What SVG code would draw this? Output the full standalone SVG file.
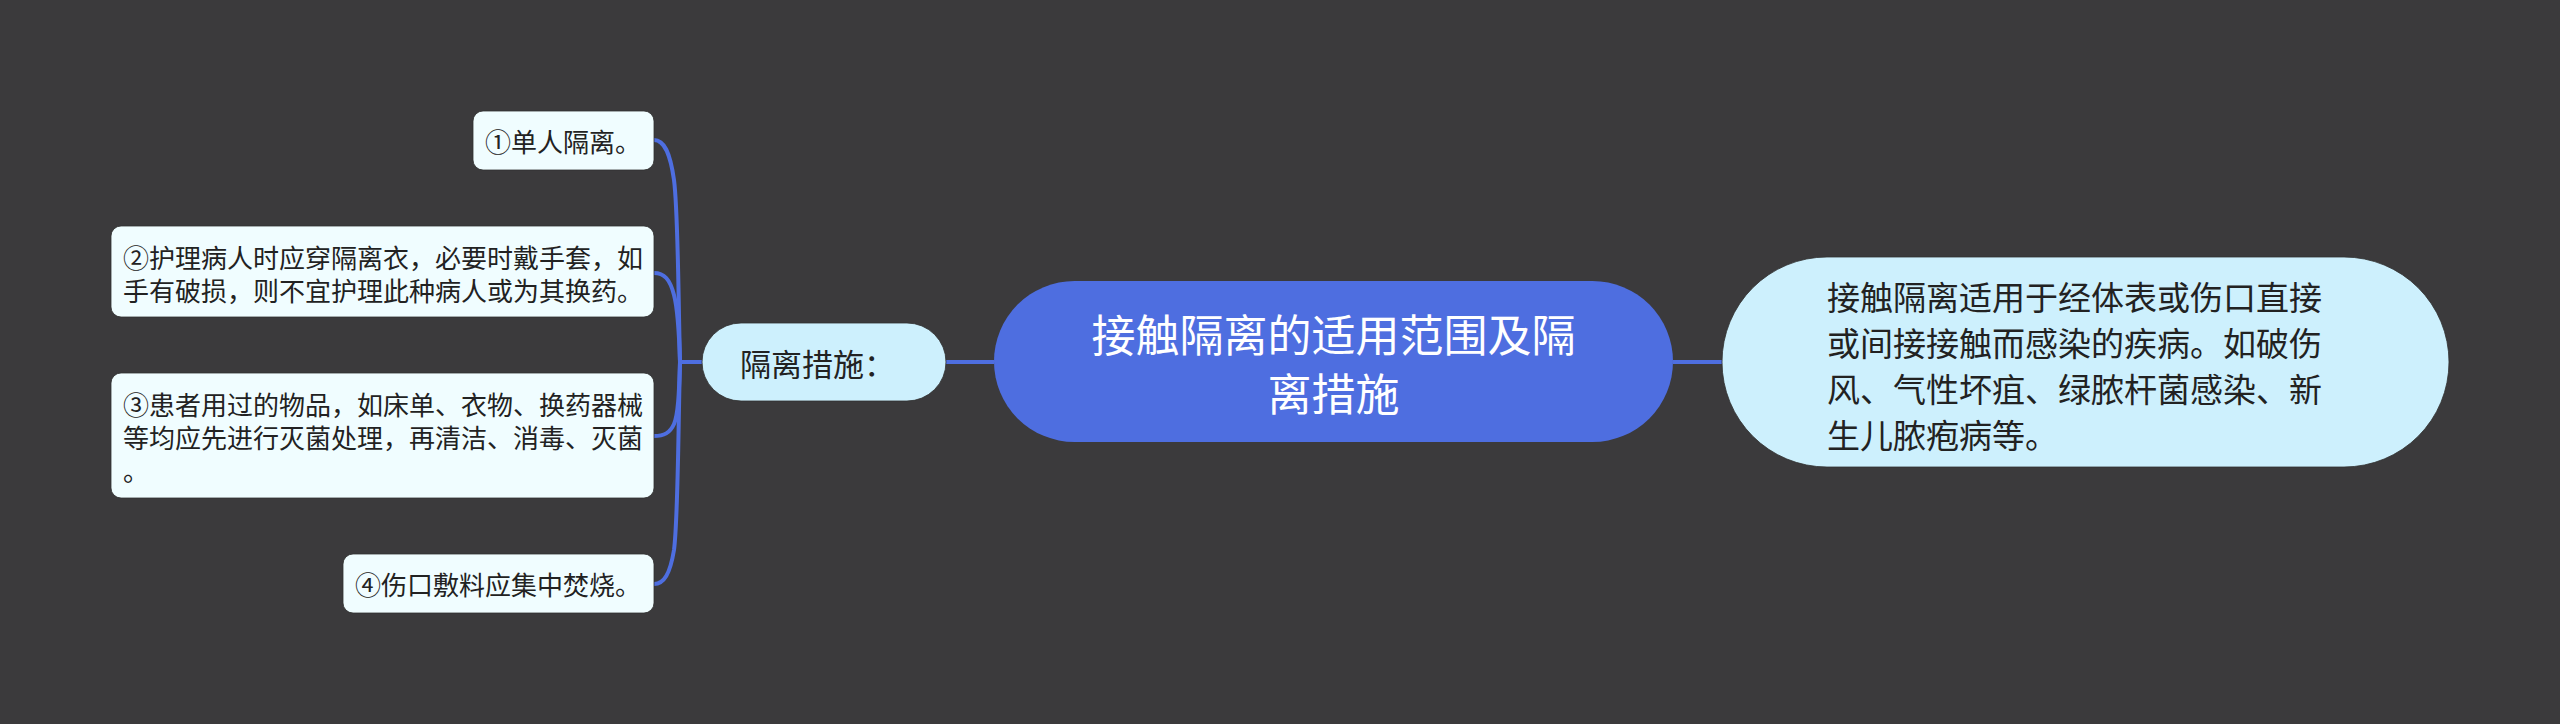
<svg xmlns="http://www.w3.org/2000/svg" width="2560" height="724" viewBox="0 0 2560 724">
<style>
.t{font-family:"Noto Sans CJK SC","Noto Sans",sans-serif;dominant-baseline:central}
.leaf rect{fill:#f0fdff;stroke:#303030;stroke-width:0.8}
.leaf text{font-size:26px;fill:#222}
.pale{fill:#cdf0fd;stroke:#303030;stroke-width:0.8}
.conn path{fill:none;stroke:#4e6ee0;stroke-width:4}
</style>
<rect x="0" y="0" width="2560" height="724" fill="#3b3a3c"/>
<g class="conn">
<path d="M702 362 H680 C678 280 678 210 674 180 C670 152 664 140 654 140"/>
<path d="M702 362 H680 C679 330 678 310 674 295 C670 279 664 273 654 273"/>
<path d="M702 362 H680 C679 395 678 415 674 424 C670 433 664 436 654 436"/>
<path d="M702 362 H680 C678 440 678 520 674 550 C670 574 664 584 654 584"/>
<path d="M946 362 H994"/>
<path d="M1673 362 H1722"/>
</g>
<g id="root">
<rect x="994" y="281" width="679" height="161" rx="80.5" fill="#4e6ee0"/>
<text class="t" x="1333.5" y="333" font-size="44" fill="#ffffff" text-anchor="middle">接触隔离的适用范围及隔</text>
<text class="t" x="1333.5" y="392" font-size="44" fill="#ffffff" text-anchor="middle">离措施</text>
</g>
<g id="sub">
<rect class="pale" x="702" y="323" width="244" height="78" rx="39"/>
<text class="t" x="740" y="362" font-size="31" fill="#222">隔离措施：</text>
</g>
<g id="scope">
<rect class="pale" x="1722" y="257" width="727" height="210" rx="105"/>
<text class="t" x="1827" y="296" font-size="33" fill="#222">接触隔离适用于经体表或伤口直接</text>
<text class="t" x="1827" y="342" font-size="33" fill="#222">或间接接触而感染的疾病。如破伤</text>
<text class="t" x="1827" y="388" font-size="33" fill="#222">风、气性坏疽、绿脓杆菌感染、新</text>
<text class="t" x="1827" y="434" font-size="33" fill="#222">生儿脓疱病等。</text>
</g>
<g id="n1" class="leaf">
<rect x="473" y="111" width="181" height="59" rx="10"/>
<text class="t" x="485" y="140.5">①单人隔离。</text>
</g>
<g id="n2" class="leaf">
<rect x="111" y="226" width="543" height="91" rx="10"/>
<text class="t" x="123" y="256.5">②护理病人时应穿隔离衣，必要时戴手套，如</text>
<text class="t" x="123" y="289">手有破损，则不宜护理此种病人或为其换药。</text>
</g>
<g id="n3" class="leaf">
<rect x="111" y="373" width="543" height="125" rx="10"/>
<text class="t" x="123" y="403">③患者用过的物品，如床单、衣物、换药器械</text>
<text class="t" x="123" y="436">等均应先进行灭菌处理，再清洁、消毒、灭菌</text>
<text class="t" x="123" y="469">。</text>
</g>
<g id="n4" class="leaf">
<rect x="343" y="554" width="311" height="59" rx="10"/>
<text class="t" x="355" y="583.5">④伤口敷料应集中焚烧。</text>
</g>
</svg>
